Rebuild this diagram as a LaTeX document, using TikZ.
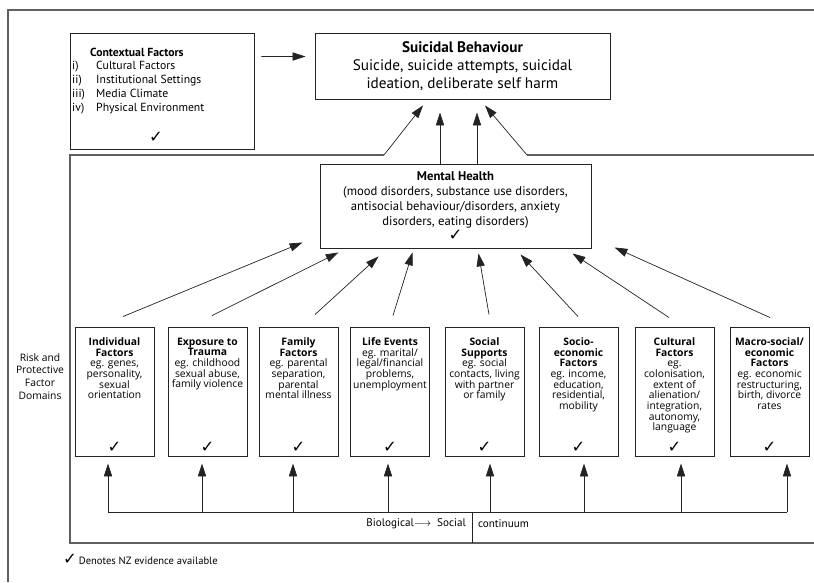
\documentclass[tikz,border=0pt]{standalone}
\usepackage{fontspec}
\setmainfont{PT Sans}
\newfontfamily\boxfont{Open Sans}
\newfontfamily\tickfont{DejaVu Sans}
\usetikzlibrary{arrows.meta,calc}
\definecolor{frameline}{RGB}{95,95,95}
\definecolor{inkdark}{RGB}{35,35,35}
\newcommand{\nzcheck}{{\tickfont\fontsize{14}{14}\selectfont\symbol{"2713}}}
\newcommand{\domain}[1]{\begin{minipage}[c][3.87cm][t]{2.3cm}\centering\boxfont\fontsize{8.8}{9.1}\selectfont\vspace*{0.32cm}#1\par\vfill\nzcheck\par\vspace*{0.12cm}\end{minipage}}

\begin{document}
\begin{tikzpicture}[x=0.03cm,y=-0.03cm,
    box/.style={draw=inkdark, line width=0.8pt, inner sep=0pt},
    domainbox/.style={box, minimum width=2.37cm, minimum height=3.87cm},
    arrow/.style={draw=inkdark, line width=0.6pt, -{Triangle[length=11pt,width=7pt]}},
    frame/.style={draw=frameline, line width=1.1pt}]
    \useasboundingbox (0,0) rectangle (814,582);

    % outer frame
    \draw[frame, line width=1.3pt] (8,582) -- (8,10) -- (814,10);

    % Contextual factors
    \node[box, minimum width=5.52cm, minimum height=3.48cm] (cf) at (162,91) {};
    \node[anchor=west, font=\bfseries\fontsize{10}{12}\selectfont] (cfhead) at (86,52) {Contextual Factors};
    \node[anchor=west, inner sep=0pt, font=\fontsize{10}{12}\selectfont] (cflist) at (72,88) {%
        \begin{tabular}{@{}p{0.72cm}@{}l@{}}
        i) & Cultural Factors\\
        ii) & Institutional Settings\\
        iii) & Media Climate\\
        iv) & Physical Environment
        \end{tabular}};
    \node (cfcheck) at (156,137) {\nzcheck};

    % Suicidal behaviour
    \node[box, minimum width=8.85cm, minimum height=1.98cm, align=center, font=\fontsize{13}{15.4}\selectfont] (sb) at (462.5,66)
        {\textbf{Suicidal Behaviour}\\Suicide, suicide attempts, suicidal\\ideation, deliberate self harm};
    \draw[arrow] ($(cf.north east)+(7,24)$) -- ($(sb.north west)+(-9,24)$);

    % inner frame
    \coordinate (ftl) at (384,155);
    \coordinate (ftr) at (527,155);
    \draw[frame] (814,543) -- (70,543) -- (70,155) -- (ftl);
    \draw[frame] (814,155) -- (ftr);
    \draw[arrow] (ftl) -- ($(sb.south)+(-39.5,6)$);
    \draw[arrow] (ftr) -- ($(sb.south)+(22.5,6)$);

    % Mental health
    \node[box, minimum width=8.13cm, minimum height=2.52cm, align=center, font=\fontsize{10.8}{12.8}\selectfont] (mh) at (455.5,206)
        {\textbf{Mental Health}\\(mood disorders, substance use disorders,\\antisocial behaviour/disorders, anxiety\\disorders, eating disorders)\\\nzcheck};
    \coordinate (v1) at ($(mh.north)+(-15.5,0)$);
    \coordinate (v2) at ($(mh.north)+(21.5,0)$);
    \draw[arrow, shorten >=0.39cm] (v1) -- (v1 |- sb.south);
    \draw[arrow, shorten >=0.39cm] (v2) -- (v2 |- sb.south);

    % risk and protective factor domains
    \node[align=center, font=\boxfont\fontsize{8.8}{11}\selectfont] (rpf) at (40,376.5) {Risk and\\Protective\\Factor\\Domains};
    \node[domainbox] (f1) at (114.5,391.5) {\domain{\textbf{Individual}\\\textbf{Factors}\\eg. genes,\\personality,\\sexual\\orientation}};
    \node[domainbox] (f2) at (207.5,391.5) {\domain{\textbf{Exposure to}\\\textbf{Trauma}\\eg. childhood\\sexual abuse,\\family violence}};
    \node[domainbox] (f3) at (298.5,391.5) {\domain{\textbf{Family}\\\textbf{Factors}\\eg. parental\\separation,\\parental\\mental illness}};
    \node[domainbox] (f4) at (390,391.5) {\domain{\textbf{Life Events}\\eg. marital/\\legal/financial\\problems,\\unemployment}};
    \node[domainbox] (f5) at (484.5,391.5) {\domain{\textbf{Social}\\\textbf{Supports}\\eg. social\\contacts, living\\with partner\\or family}};
    \node[domainbox] (f6) at (578.5,391.5) {\domain{\textbf{Socio-}\\\textbf{economic}\\\textbf{Factors}\\eg. income,\\education,\\residential,\\mobility}};
    \node[domainbox] (f7) at (674.5,391.5) {\domain{\textbf{Cultural}\\\textbf{Factors}\\eg.\\colonisation,\\extent of\\alienation/\\integration,\\autonomy,\\language}};
    \node[domainbox] (f8) at (769.5,391.5) {\domain{\textbf{Macro-social/}\\\textbf{economic}\\\textbf{Factors}\\eg. economic\\restructuring,\\birth, divorce\\rates}};

    % domains feed mental health
    \draw[arrow] ($(f1.north)+(8.5,-10)$) -- ($(mh.south west)+(-17,-6)$);
    \draw[arrow] ($(f2.north)+(4.5,-11)$) -- ($(mh.south west)+(19,4)$);
    \draw[arrow] ($(f3.north)+(16.5,-12)$) -- ($(mh.south west)+(59,8)$);
    \draw[arrow] ($(f4.north)+(3,-11)$) -- ($(mh.south west)+(93,4)$);
    \draw[arrow] ($(f5.north)+(4.5,-12)$) -- ($(mh.south west)+(159,5)$);
    \draw[arrow] ($(f6.north)+(-0.5,-10)$) -- ($(mh.south west)+(201,6)$);
    \draw[arrow] ($(f7.north)+(-5.5,-9)$) -- ($(mh.south west)+(253,5)$);
    \draw[arrow] ($(f8.north)+(0.5,-9)$) -- ($(mh.south west)+(295,-1)$);

    % biological -> social continuum
    \coordinate (b1) at ($(f1.south)+(-6.5,56)$);
    \coordinate (b2) at ($(f2.south)+(-5.5,56)$);
    \coordinate (b3) at ($(f3.south)+(-5.5,56)$);
    \coordinate (b4) at ($(f4.south)+(-2,56)$);
    \coordinate (b5) at ($(f5.south)+(5.5,56)$);
    \coordinate (b6) at ($(f6.south)+(5.5,56)$);
    \coordinate (b7) at ($(f7.south)+(6.5,56)$);
    \coordinate (b8) at ($(f8.south)+(17.5,56)$);
    \draw[inkdark, line width=0.6pt] (b1) -- (b8);
    \draw[arrow, shorten >=0.21cm] (b1) -- (b1 |- f1.south);
    \draw[arrow, shorten >=0.21cm] (b2) -- (b2 |- f2.south);
    \draw[arrow, shorten >=0.21cm] (b3) -- (b3 |- f3.south);
    \draw[arrow, shorten >=0.21cm] (b4) -- (b4 |- f4.south);
    \draw[arrow, shorten >=0.21cm] (b5) -- (b5 |- f5.south);
    \draw[arrow, shorten >=0.21cm] (b6) -- (b6 |- f6.south);
    \draw[arrow, shorten >=0.21cm] (b7) -- (b7 |- f7.south);
    \draw[arrow, shorten >=0.21cm] (b8) -- (b8 |- f8.south);
    \draw[inkdark, line width=0.6pt] (472,512) -- (472,543);
    \node[anchor=east, font=\fontsize{9.5}{11}\selectfont] (bio) at (470,524) {Biological$\longrightarrow$\ \ Social};
    \node[anchor=west, font=\fontsize{9.5}{11}\selectfont] (cont) at (474,524) {continuum};

    % key
    \node[anchor=west, inner sep=0pt] (key) at (63,559) {\nzcheck\,{\fontsize{9}{11}\selectfont Denotes NZ evidence available}};
\end{tikzpicture}
\end{document}
